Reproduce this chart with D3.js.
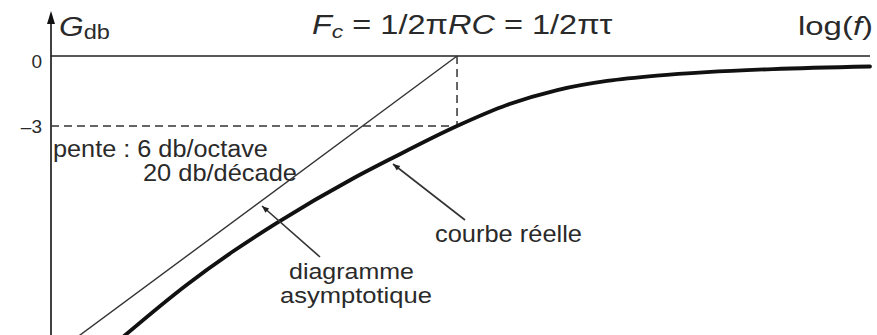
<!DOCTYPE html>
<html>
<head>
<meta charset="utf-8">
<script src="https://cdn.jsdelivr.net/npm/d3@7"></script>
<style>
  html, body { margin: 0; padding: 0; background: #fff; }
  svg { display: block; }
  text { font-family: "Liberation Sans", Arial, sans-serif; fill: #2a2a2a; }
</style>
</head>
<body>
<svg id="chart" width="877" height="335"></svg>
<script>
// Gain of a first-order RC high-pass filter, in dB, against log10(f / Fc)
const curveLogF = [-0.528, -0.428, -0.355, -0.285, -0.165, -0.101, 0, 0.079, 0.159, 0.238, 0.317, 0.396, 0.501, 0.655];
const curveGain = [-12.0, -9.79, -8.37, -7.14, -5.25, -4.35, -3.0, -2.10, -1.46, -1.07, -0.84, -0.69, -0.56, -0.45];

// Straight-line (asymptotic) approximation: +20 dB/decade up to Fc
const asymLogF = [-0.6, 0];
const asymGain = [-12, 0];

const cutoffLogF = 0;
const cutoffGain = -3;

const yTicks = [0, -3];
const yTickLabels = ["0", "\u20133"];

const svg = d3.select("#chart");
const W = 877, H = 335;
const plotLeft = 51, plotRight = 870, plotTop = 56, plotBottom = 336;

const x = d3.scaleLinear().domain([-0.644, 0.655]).range([plotLeft, plotRight]);
const y = d3.scaleLinear().domain([-12, 0]).range([plotBottom, plotTop]);

const ink = "#111";

// stretch a text horizontally so that it spans [x0, x1]
function spanText(sel, x0, x1) {
  const b = sel.node().getBBox();
  const k = (x1 - x0) / b.width;
  sel.attr("transform", `translate(${x0},0) scale(${k},1) translate(${-b.x},0)`);
  return sel;
}

// clip marks to the plotting area
const defs = svg.append("defs");
defs.append("clipPath").attr("id", "plot")
  .append("rect").attr("x", plotLeft).attr("y", 0).attr("width", W - plotLeft).attr("height", H);

defs.append("marker")
  .attr("id", "head").attr("viewBox", "0 0 10 10")
  .attr("refX", 10).attr("refY", 5)
  .attr("markerWidth", 11).attr("markerHeight", 7)
  .attr("markerUnits", "userSpaceOnUse")
  .attr("orient", "auto")
  .append("path").attr("d", "M0,1 L10,5 L0,9 Z").attr("fill", "#222");

// horizontal log(f) axis at 0 dB
svg.append("line")
  .attr("x1", plotLeft).attr("x2", plotRight)
  .attr("y1", y(0)).attr("y2", y(0))
  .attr("stroke", "#222").attr("stroke-width", 1.6);

// vertical gain axis with arrowhead
const yAxis = d3.axisLeft(y).tickValues(yTicks).tickSize(0).tickPadding(9)
  .tickFormat((d, i) => yTickLabels[i]);
const gy = svg.append("g").attr("transform", `translate(${plotLeft},0)`).call(yAxis);
gy.select(".domain").remove();
gy.selectAll("text").attr("font-size", 19).attr("fill", "#2a2a2a")
  .attr("font-family", '"Liberation Sans", Arial, sans-serif')
  .attr("dy", (d) => d === 0 ? "0.62em" : "0.36em");
svg.append("line")
  .attr("x1", plotLeft).attr("x2", plotLeft).attr("y1", 20).attr("y2", H)
  .attr("stroke", "#111").attr("stroke-width", 1.6);
svg.append("path")
  .attr("d", `M${plotLeft},11 L${plotLeft - 4},24 L${plotLeft + 4},24 Z`)
  .attr("fill", "#111");

// -3 dB guide lines to the cut-off point
const dash = "8,5";
svg.append("line")
  .attr("x1", plotLeft).attr("x2", x(cutoffLogF))
  .attr("y1", y(cutoffGain)).attr("y2", y(cutoffGain))
  .attr("stroke", "#333").attr("stroke-width", 1.5).attr("stroke-dasharray", dash);
svg.append("line")
  .attr("x1", x(cutoffLogF)).attr("x2", x(cutoffLogF))
  .attr("y1", y(0)).attr("y2", y(cutoffGain))
  .attr("stroke", "#333").attr("stroke-width", 1.5).attr("stroke-dasharray", dash);

const plot = svg.append("g").attr("clip-path", "url(#plot)");

// asymptotic diagram
plot.append("path")
  .datum(asymLogF.map((v, i) => [v, asymGain[i]]))
  .attr("fill", "none").attr("stroke", "#333").attr("stroke-width", 1.4)
  .attr("d", d3.line().x(d => x(d[0])).y(d => y(d[1])));

// real response
plot.append("path")
  .datum(curveLogF.map((v, i) => [v, curveGain[i]]))
  .attr("fill", "none").attr("stroke", ink).attr("stroke-width", 3.8)
  .attr("stroke-linecap", "round")
  .attr("d", d3.line().curve(d3.curveMonotoneX).x(d => x(d[0])).y(d => y(d[1])));

// pointer arrows
svg.append("line").attr("x1", 465).attr("y1", 220).attr("x2", 393).attr("y2", 164)
  .attr("stroke", "#333").attr("stroke-width", 1.6).attr("marker-end", "url(#head)");
svg.append("line").attr("x1", 320).attr("y1", 257).attr("x2", 262).attr("y2", 206)
  .attr("stroke", "#333").attr("stroke-width", 1.6).attr("marker-end", "url(#head)");

// axis titles
const gTitle = svg.append("text").attr("y", 36).attr("font-size", 27);
gTitle.append("tspan").attr("font-style", "italic").text("G");
gTitle.append("tspan").attr("font-size", 20).attr("dy", 3).text("db");
spanText(gTitle, 59, 110);

const logTitle = svg.append("text").attr("y", 35).attr("font-size", 25);
logTitle.append("tspan").text("log(");
logTitle.append("tspan").attr("font-style", "italic").text("f");
logTitle.append("tspan").text(")");
spanText(logTitle, 798, 873);

// cut-off frequency formula
const fc = svg.append("text").attr("y", 34).attr("font-size", 27);
fc.append("tspan").attr("font-style", "italic").text("F");
fc.append("tspan").attr("font-style", "italic").attr("font-size", 19).attr("dy", 4).text("c");
fc.append("tspan").attr("dy", -4).text(" = 1/2\u03c0");
fc.append("tspan").attr("font-style", "italic").text("RC");
fc.append("tspan").text(" = 1/2\u03c0\u03c4");
spanText(fc, 312, 613);

// annotations
const notes = [
  ["pente : 6 db/octave", 157, 53, 268, 23],
  ["20 db/d\u00e9cade", 181, 143, 297, 23],
  ["courbe r\u00e9elle", 242, 435, 582, 23],
  ["diagramme", 279, 289, 414, 22],
  ["asymptotique", 303, 280, 432, 22]
];
notes.forEach(([label, baseline, x0, x1, size]) => {
  const t = svg.append("text").attr("y", baseline).attr("font-size", size).text(label);
  spanText(t, x0, x1);
});
</script>
</body>
</html>
